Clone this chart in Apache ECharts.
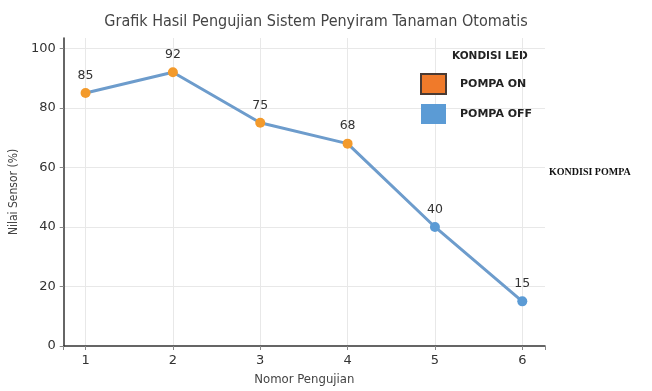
<!DOCTYPE html>
<html>
<head>
<meta charset="utf-8">
<script src="https://cdn.jsdelivr.net/npm/echarts@6/dist/echarts.min.js"></script>
<style>
  html, body { margin: 0; padding: 0; background: #fff; }
  #chart { width: 652px; height: 391px; }
</style>
</head>
<body>
<div id="chart"></div>
<script>
// data
var arrX = [1, 2, 3, 4, 5, 6];
var arrNilai = [85, 92, 75, 68, 40, 15];
var arrPompa = ['ON', 'ON', 'ON', 'ON', 'OFF', 'OFF'];
var arrLegend = ['POMPA ON', 'POMPA OFF'];

var oWarna = { ON: '#f39a2b', OFF: '#5b9bd5' };
var strGaris = '#6d9ccc';

var m_oChart = echarts.init(document.getElementById('chart'));

var arrData = arrX.map(function (x, i) {
    return {
        value: [x, arrNilai[i]],
        itemStyle: { color: oWarna[arrPompa[i]] }
    };
});

var option = {
    animation: false,
    title: {
        text: 'Grafik Hasil Pengujian Sistem Penyiram Tanaman Otomatis',
        left: 311,
        textAlign: 'center',
        top: 9,
        textStyle: { fontFamily: 'DejaVu Sans Condensed', fontSize: 16, fontWeight: 'normal', color: '#444' }
    },
    legend: {
        data: [
            { name: arrLegend[0], itemStyle: { color: '#f07a2a', borderColor: '#4a3a33', borderWidth: 2 } },
            { name: arrLegend[1], itemStyle: { color: '#5b9bd5', borderWidth: 0 } }
        ],
        orient: 'vertical',
        left: 420,
        top: 73,
        padding: 0,
        itemWidth: 25,
        itemHeight: 20,
        itemGap: 9,
        icon: 'rect',
        textStyle: { fontFamily: 'DejaVu Sans', fontSize: 11, fontWeight: 'bold', color: '#222', padding: [0, 0, 0, 9] }
    },
    graphic: [
        {
            type: 'text', left: 452, top: 51,
            style: { text: 'KONDISI LED', font: 'bold 10.5px "DejaVu Sans"', fill: '#222' }
        },
        {
            type: 'text', left: 549, top: 167,
            style: { text: 'KONDISI POMPA', font: 'bold 10px "Liberation Serif"', fill: '#111' }
        }
    ],
    grid: { left: 63, right: 107, top: 38, bottom: 44 },
    xAxis: {
        type: 'value',
        min: 0.75,
        max: 6.26,
        splitNumber: 6,
        name: 'Nomor Pengujian',
        nameLocation: 'middle',
        nameGap: 27,
        nameTextStyle: { fontFamily: 'DejaVu Sans Condensed', fontSize: 13, color: '#444' },
        axisLine: { lineStyle: { color: '#333', width: 1.5 } },
        axisTick: { show: true, length: 4, lineStyle: { color: '#888' } },
        axisLabel: {
            fontFamily: 'DejaVu Sans', fontSize: 13, color: '#333', margin: 8,
            formatter: function (v) { return Math.abs(v - Math.round(v)) < 1e-6 ? String(v) : ''; }
        },
        splitLine: { show: true, showMinLine: false, showMaxLine: false, lineStyle: { color: '#e8e8e8', width: 1 } }
    },
    yAxis: {
        type: 'value',
        min: 0,
        max: 103.5,
        splitNumber: 5,
        name: 'Nilai Sensor (%)',
        nameLocation: 'middle',
        nameGap: 37,
        nameTextStyle: { fontFamily: 'DejaVu Sans Condensed', fontSize: 12, color: '#444' },
        axisLine: { show: true, lineStyle: { color: '#333', width: 1.5 } },
        axisTick: { show: true, length: 4, lineStyle: { color: '#888' } },
        axisLabel: {
            fontFamily: 'DejaVu Sans', fontSize: 13, color: '#333', margin: 8,
            showMaxLabel: false
        },
        splitLine: { show: true, showMinLine: false, showMaxLine: false, lineStyle: { color: '#e8e8e8', width: 1 } }
    },
    series: [
        {
            name: 'Nilai',
            type: 'line',
            data: arrData,
            symbol: 'circle',
            symbolSize: 10,
            lineStyle: { color: strGaris, width: 3 },
            label: {
                show: true, position: 'top', distance: 6,
                fontFamily: 'DejaVu Sans', fontSize: 12.5, color: '#333',
                formatter: function (p) { return p.value[1]; }
            },
            z: 3
        },
        { name: arrLegend[0], type: 'line', data: [] },
        { name: arrLegend[1], type: 'line', data: [] }
    ]
};

m_oChart.setOption(option);
</script>
</body>
</html>
